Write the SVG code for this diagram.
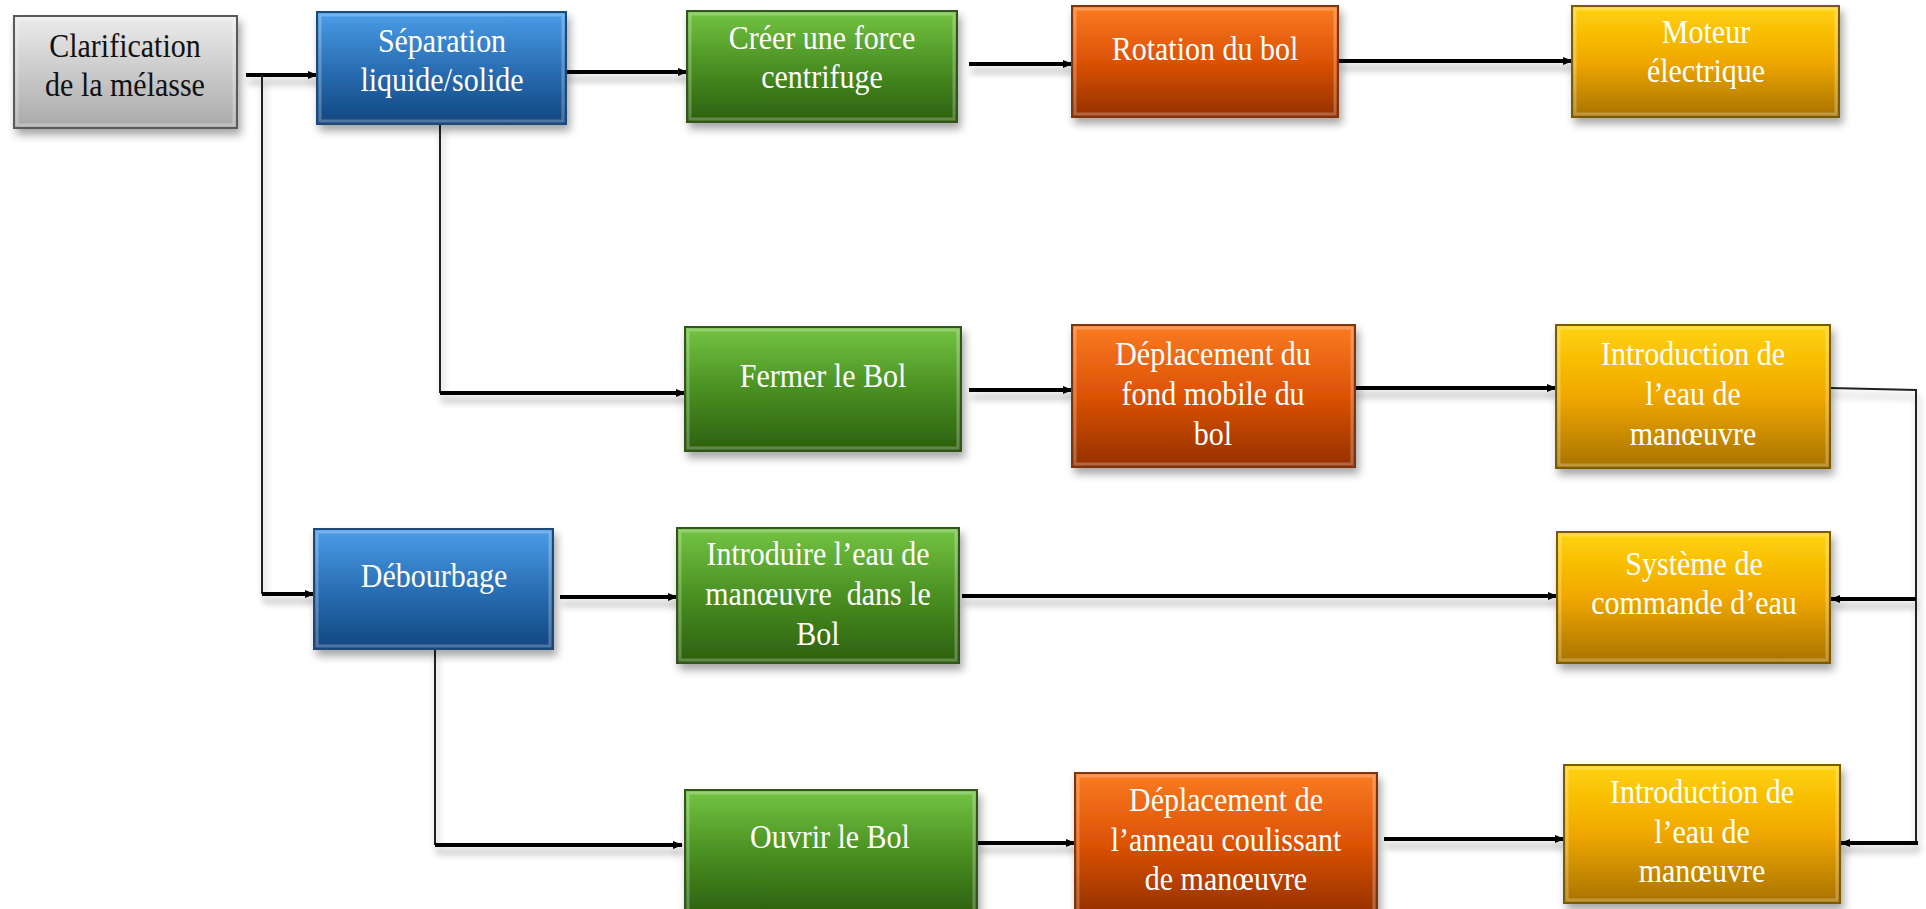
<svg xmlns="http://www.w3.org/2000/svg" width="1926" height="909" viewBox="0 0 1926 909">
<defs>
<linearGradient id="gGray" x1="0" y1="0" x2="0" y2="1"><stop offset="0" stop-color="#ececec"/><stop offset="1" stop-color="#a9a9a9"/></linearGradient>
<linearGradient id="gBlue" x1="0" y1="0" x2="0" y2="1"><stop offset="0" stop-color="#4a9de8"/><stop offset="0.5" stop-color="#2a6fb4"/><stop offset="1" stop-color="#114680"/></linearGradient>
<linearGradient id="gGreen" x1="0" y1="0" x2="0" y2="1"><stop offset="0" stop-color="#74c443"/><stop offset="0.5" stop-color="#4a9022"/><stop offset="1" stop-color="#2c5f0e"/></linearGradient>
<linearGradient id="gOrange" x1="0" y1="0" x2="0" y2="1"><stop offset="0" stop-color="#fa7b22"/><stop offset="0.5" stop-color="#dc5205"/><stop offset="1" stop-color="#943000"/></linearGradient>
<linearGradient id="gGold" x1="0" y1="0" x2="0" y2="1"><stop offset="0" stop-color="#ffd30a"/><stop offset="0.5" stop-color="#f0a800"/><stop offset="1" stop-color="#a87200"/></linearGradient>
<filter id="sh" x="-10%" y="-10%" width="130%" height="140%"><feDropShadow dx="3" dy="6" stdDeviation="4" flood-color="#000" flood-opacity="0.35"/></filter>
<filter id="lsh" x="-5%" y="-50%" width="110%" height="300%"><feDropShadow dx="2" dy="7" stdDeviation="3.5" flood-color="#000" flood-opacity="0.3"/></filter>
<marker id="ah" markerUnits="userSpaceOnUse" markerWidth="10" markerHeight="10" viewBox="0 0 10 10" refX="9" refY="5" orient="auto"><path d="M0,1 L10,5 L0,9 Z" fill="#000"/></marker>
</defs>
<style>
.box{stroke-width:2;filter:url(#sh)}
.gray{fill:url(#gGray);stroke:#5a5a5a}
.blue{fill:url(#gBlue);stroke:#1d4a78}
.green{fill:url(#gGreen);stroke:#33541c}
.orange{fill:url(#gOrange);stroke:#7e3408}
.gold{fill:url(#gGold);stroke:#7a5c00}
.bev{fill:none;stroke:#fff;stroke-opacity:0.25;stroke-width:3}
text{font-family:"Liberation Serif","Times New Roman",serif;font-size:30px;fill:#fff;text-anchor:middle}
text.dark{fill:#111}
.thick{stroke:#000;stroke-width:4;fill:none}
.thin{stroke:#222;stroke-width:2;fill:none}
</style>
<rect width="1926" height="909" fill="#fff"/>
<g id="connectors" filter="url(#lsh)">
<path class="thick" d="M246,75 H317" marker-end="url(#ah)"/>
<path class="thin" d="M262,75 V594"/>
<path class="thick" d="M262,594 H314" marker-end="url(#ah)"/>
<path class="thick" d="M566,72 H687" marker-end="url(#ah)"/>
<path class="thick" d="M969,64 H1072" marker-end="url(#ah)"/>
<path class="thick" d="M1338,61 H1572" marker-end="url(#ah)"/>
<path class="thin" d="M440,124 V393"/>
<path class="thick" d="M440,393 H685" marker-end="url(#ah)"/>
<path class="thick" d="M969,390 H1072" marker-end="url(#ah)"/>
<path class="thick" d="M1355,388 H1556" marker-end="url(#ah)"/>
<path class="thin" d="M1830,388 L1916,390 V845"/>
<path class="thick" d="M1916,599 H1831" marker-end="url(#ah)"/>
<path class="thick" d="M1918,843 H1841" marker-end="url(#ah)"/>
<path class="thick" d="M560,597 H677" marker-end="url(#ah)"/>
<path class="thick" d="M962,596 H1557" marker-end="url(#ah)"/>
<path class="thin" d="M435,649 V845"/>
<path class="thick" d="M435,845 H682" marker-end="url(#ah)"/>
<path class="thick" d="M977,843 H1075" marker-end="url(#ah)"/>
<path class="thick" d="M1384,839 H1564" marker-end="url(#ah)"/>
</g>
<g id="n-clarification"><rect class="box gray" x="14" y="16" width="223" height="112"/><rect class="bev" x="17" y="19" width="217" height="106"/><text class="dark" transform="translate(125,57) scale(1,1.15)">Clarification</text><text class="dark" transform="translate(125,96) scale(1,1.15)">de la mélasse</text></g>
<g id="n-separation"><rect class="box blue" x="317" y="12" width="249" height="112"/><rect class="bev" x="320" y="15" width="243" height="106"/><text transform="translate(442,52) scale(1,1.15)">Séparation</text><text transform="translate(442,91) scale(1,1.15)">liquide/solide</text></g>
<g id="n-creer"><rect class="box green" x="687" y="11" width="270" height="111"/><rect class="bev" x="690" y="14" width="264" height="105"/><text transform="translate(822,49) scale(1,1.15)">Créer une force</text><text transform="translate(822,88) scale(1,1.15)">centrifuge</text></g>
<g id="n-rotation"><rect class="box orange" x="1072" y="6" width="266" height="111"/><rect class="bev" x="1075" y="9" width="260" height="105"/><text transform="translate(1205,60) scale(1,1.15)">Rotation du bol</text></g>
<g id="n-moteur"><rect class="box gold" x="1572" y="6" width="267" height="111"/><rect class="bev" x="1575" y="9" width="261" height="105"/><text transform="translate(1706,43) scale(1,1.15)">Moteur</text><text transform="translate(1706,82) scale(1,1.15)">électrique</text></g>
<g id="n-fermer"><rect class="box green" x="685" y="327" width="276" height="124"/><rect class="bev" x="688" y="330" width="270" height="118"/><text transform="translate(823,387) scale(1,1.15)">Fermer le Bol</text></g>
<g id="n-deplacement-fond"><rect class="box orange" x="1072" y="325" width="283" height="142"/><rect class="bev" x="1075" y="328" width="277" height="136"/><text transform="translate(1213,365) scale(1,1.15)">Déplacement du</text><text transform="translate(1213,405) scale(1,1.15)">fond mobile du</text><text transform="translate(1213,445) scale(1,1.15)">bol</text></g>
<g id="n-introduction-1"><rect class="box gold" x="1556" y="325" width="274" height="143"/><rect class="bev" x="1559" y="328" width="268" height="137"/><text transform="translate(1693,365) scale(1,1.15)">Introduction de</text><text transform="translate(1693,405) scale(1,1.15)">l’eau de</text><text transform="translate(1693,445) scale(1,1.15)">manœuvre</text></g>
<g id="n-debourbage"><rect class="box blue" x="314" y="529" width="239" height="120"/><rect class="bev" x="317" y="532" width="233" height="114"/><text transform="translate(434,587) scale(1,1.15)">Débourbage</text></g>
<g id="n-introduire"><rect class="box green" x="677" y="528" width="282" height="135"/><rect class="bev" x="680" y="531" width="276" height="129"/><text transform="translate(818,565) scale(1,1.15)">Introduire l’eau de</text><text transform="translate(818,605) scale(1,1.15)" xml:space="preserve">manœuvre  dans le</text><text transform="translate(818,645) scale(1,1.15)">Bol</text></g>
<g id="n-systeme"><rect class="box gold" x="1557" y="532" width="273" height="131"/><rect class="bev" x="1560" y="535" width="267" height="125"/><text transform="translate(1694,575) scale(1,1.15)">Système de</text><text transform="translate(1694,614) scale(1,1.15)">commande d’eau</text></g>
<g id="n-ouvrir"><rect class="box green" x="685" y="790" width="292" height="125"/><rect class="bev" x="688" y="793" width="286" height="119"/><text transform="translate(830,848) scale(1,1.15)">Ouvrir le Bol</text></g>
<g id="n-deplacement-anneau"><rect class="box orange" x="1075" y="773" width="302" height="142"/><rect class="bev" x="1078" y="776" width="296" height="136"/><text transform="translate(1226,811) scale(1,1.15)">Déplacement de</text><text transform="translate(1226,851) scale(1,1.15)">l’anneau coulissant</text><text transform="translate(1226,890) scale(1,1.15)">de manœuvre</text></g>
<g id="n-introduction-2"><rect class="box gold" x="1564" y="765" width="276" height="138"/><rect class="bev" x="1567" y="768" width="270" height="132"/><text transform="translate(1702,803) scale(1,1.15)">Introduction de</text><text transform="translate(1702,843) scale(1,1.15)">l’eau de</text><text transform="translate(1702,882) scale(1,1.15)">manœuvre</text></g>
</svg>
